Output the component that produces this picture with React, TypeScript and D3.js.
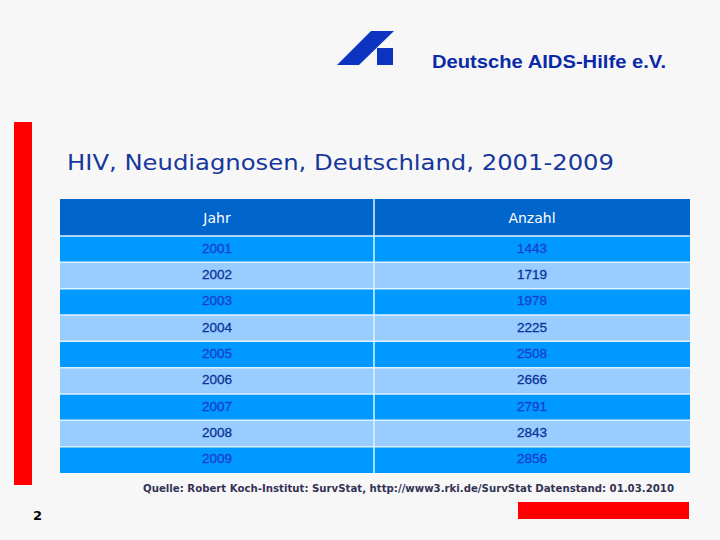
import React from "react";
import * as d3 from "d3";

const years = ["2001", "2002", "2003", "2004", "2005", "2006", "2007", "2008", "2009"];
const counts = [1443, 1719, 1978, 2225, 2508, 2666, 2791, 2843, 2856];
const headers = ["Jahr", "Anzahl"];
const title = "HIV, Neudiagnosen, Deutschland, 2001-2009";
const org = "Deutsche AIDS-Hilfe e.V.";
const source = "Quelle: Robert Koch-Institut: SurvStat, http://www3.rki.de/SurvStat Datenstand: 01.03.2010";
const pageNo = "2";

export default function App() {
  const W = 720, H = 540;
  const tableLeft = 60, tableRight = 690, colSplit = 374;
  const headTop = 199, headBottom = 236, tableBottom = 473;
  const y = d3.scaleBand<string>().domain(years).range([headBottom, tableBottom]).padding(0);
  const cols = d3.scaleOrdinal<string, [number, number]>().domain(headers).range([[tableLeft, colSplit], [colSplit, tableRight]]);
  const colCenter = (h: string) => { const c = cols(h); return (c[0] + c[1]) / 2; };
  const rows = years.map((yr, i) => ({ yr, v: counts[i], i }));

  return (
    <svg width={W} height={H} style={{ position: "fixed", left: 0, top: 0 }} xmlns="http://www.w3.org/2000/svg">
      <rect x={0} y={0} width={W} height={H} fill="#f7f7f7" />
      {/* logo */}
      <polygon points="371,31 394,31 359,65 337,65" fill="#0d34c0" />
      <rect x={377} y={48} width={16} height={17} fill="#0d34c0" />
      <text x={432} y={68} fontFamily="Liberation Sans, Arial, sans-serif" fontWeight="bold" fontSize={18.5} fill="#0a2aa8" textLength={234} lengthAdjust="spacingAndGlyphs">{org}</text>
      {/* left red bar */}
      <rect x={14} y={122} width={18} height={363} fill="#ff0000" />
      {/* title */}
      <text x={67} y={170} fontFamily="DejaVu Sans, Verdana, sans-serif" fontSize={22} fill="#17379a" textLength={547} lengthAdjust="spacingAndGlyphs">{title}</text>
      {/* header */}
      <rect x={tableLeft} y={headTop} width={tableRight - tableLeft} height={headBottom - headTop} fill="#0066cc" />
      {headers.map((h) => (
        <text key={h} x={colCenter(h)} y={(headTop + headBottom) / 2 + 5} textAnchor="middle" fontFamily="DejaVu Sans, Verdana, sans-serif" fontSize={14} fill="#ffffff">{h}</text>
      ))}
      {/* rows */}
      {rows.map((r) => (
        <g key={r.yr}>
          <rect x={tableLeft} y={y(r.yr)!} width={tableRight - tableLeft} height={y.bandwidth()} fill={r.i % 2 === 0 ? "#0099ff" : "#99ccff"} />
          <text x={colCenter(headers[0])} y={y(r.yr)! + y.bandwidth() / 2 + 3.5} textAnchor="middle" fontFamily="Liberation Sans, Arial, sans-serif" fontSize={13.5} stroke={r.i % 2 === 0 ? "#1a3fcc" : "#0a3399"} strokeWidth={0.3} fill={r.i % 2 === 0 ? "#1a3fcc" : "#0a3399"}>{r.yr}</text>
          <text x={colCenter(headers[1])} y={y(r.yr)! + y.bandwidth() / 2 + 3.5} textAnchor="middle" fontFamily="Liberation Sans, Arial, sans-serif" fontSize={13.5} stroke={r.i % 2 === 0 ? "#1a3fcc" : "#0a3399"} strokeWidth={0.3} fill={r.i % 2 === 0 ? "#1a3fcc" : "#0a3399"}>{r.v}</text>
        </g>
      ))}
      {/* grid lines */}
      {years.map((yr) => (
        <line key={"l" + yr} x1={tableLeft} x2={tableRight} y1={y(yr)!} y2={y(yr)!} stroke="#dff2ff" strokeWidth={1.5} />
      ))}
      <line x1={colSplit} x2={colSplit} y1={headTop} y2={tableBottom} stroke="#dff2ff" strokeWidth={1.5} />
      {/* source */}
      <text x={143} y={492} fontFamily="DejaVu Sans, Verdana, sans-serif" fontWeight="bold" fontSize={10} fill="#333355" textLength={531} lengthAdjust="spacingAndGlyphs">{source}</text>
      {/* bottom red bar */}
      <rect x={518} y={502} width={171} height={17} fill="#ff0000" />
      {/* page number */}
      <text x={33} y={520} fontFamily="DejaVu Sans, Verdana, sans-serif" fontWeight="bold" fontSize={13} fill="#000000">{pageNo}</text>
    </svg>
  );
}
